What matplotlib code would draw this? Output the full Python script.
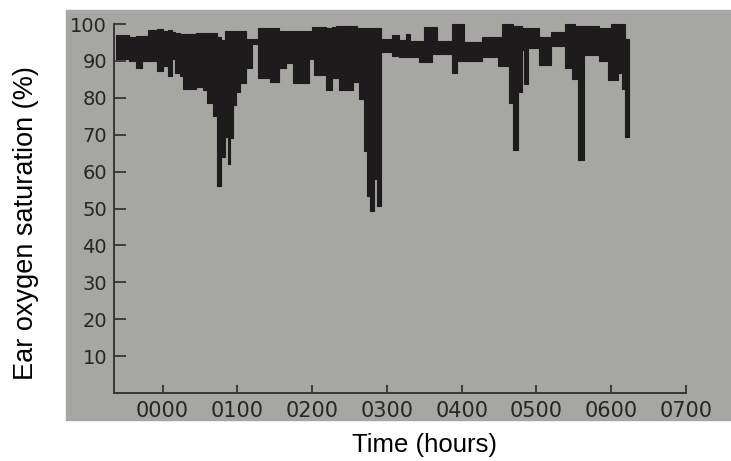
import matplotlib.pyplot as plt
from matplotlib.patches import Rectangle

# segment start times (hours), with the top and bottom of the black band
seg_start = [
    -0.62, -0.45, -0.35, -0.28, -0.20, -0.08, 0.00, 0.07, 0.12, 0.16,
    0.23, 0.27, 0.45, 0.54, 0.60, 0.67, 0.73, 0.78, 0.83, 0.87,
    0.90, 0.94, 0.98, 1.03, 1.12, 1.20, 1.27, 1.43, 1.56, 1.65,
    1.74, 1.96, 2.00, 2.03, 2.18, 2.27, 2.32, 2.36, 2.54, 2.60,
    2.63, 2.69, 2.74, 2.78, 2.83, 2.87, 2.92, 3.07, 3.16, 3.25,
    3.31, 3.43, 3.49, 3.60, 3.67, 3.87, 3.94, 4.03, 4.27, 4.49,
    4.54, 4.63, 4.69, 4.75, 4.80, 4.84, 4.89, 5.03, 5.20, 5.38,
    5.47, 5.52, 5.56, 5.63, 5.83, 5.96, 6.00, 6.09, 6.14, 6.19,
]
seg_end = 6.24

band_high = [
    97.0, 96.5, 96.8, 96.8, 98.4, 98.6, 98.2, 98.4, 97.8, 97.6,
    97.2, 97.3, 97.7, 97.5, 97.7, 97.7, 96.5, 95.6, 98.0, 98.0,
    98.0, 98.0, 98.0, 98.0, 96.0, 96.0, 98.9, 98.9, 98.0, 98.0,
    98.2, 98.0, 99.2, 99.2, 99.0, 99.2, 99.5, 99.5, 99.5, 98.9,
    98.9, 98.9, 98.9, 98.9, 98.9, 98.9, 96.0, 97.0, 95.8, 97.2,
    95.3, 95.3, 99.1, 99.1, 95.3, 100.0, 100.0, 95.2, 96.5, 96.5,
    100.0, 100.0, 99.4, 99.4, 98.8, 98.8, 98.8, 96.5, 97.8, 100.0,
    100.0, 99.4, 99.4, 99.4, 98.8, 98.8, 100.0, 100.0, 100.0, 96.0,
]
band_low = [
    90.5, 90.0, 88.0, 90.0, 90.0, 87.2, 88.5, 85.8, 90.5, 86.7,
    86.0, 82.5, 83.0, 82.0, 78.7, 75.0, 56.0, 64.0, 69.4, 62.0,
    69.0, 78.0, 81.6, 84.0, 88.0, 94.5, 85.3, 84.4, 88.0, 89.5,
    84.0, 90.4, 90.4, 86.2, 82.0, 85.3, 85.3, 82.0, 84.4, 84.4,
    79.7, 65.6, 53.5, 49.3, 58.1, 50.7, 92.3, 91.4, 91.2, 91.2,
    91.2, 89.7, 89.7, 92.0, 92.0, 86.8, 90.0, 90.0, 91.2, 88.6,
    88.6, 78.7, 66.0, 81.5, 93.0, 83.8, 93.6, 89.0, 94.0, 88.0,
    85.1, 85.1, 63.1, 91.6, 90.0, 84.9, 84.9, 86.7, 82.5, 69.5,
]

hour_ticks = [0, 1, 2, 3, 4, 5, 6, 7]
hour_labels = ["0000", "0100", "0200", "0300", "0400", "0500", "0600", "0700"]
sat_ticks = [10, 20, 30, 40, 50, 60, 70, 80, 90, 100]

PAPER = "#a6a6a2"
INK = "#1d1b1b"
AXIS = "#363636"

W, H = 731, 461
fig = plt.figure(figsize=(W / 100, H / 100), dpi=100)
fig.patches.append(Rectangle((66 / W, 41 / H), 665 / W, 410 / H,
                             transform=fig.transFigure, color=PAPER, zorder=-10))

ax = fig.add_axes([114 / W, 68 / H, 572 / W, 380 / H])
ax.patch.set_visible(False)

t = seg_start + [seg_end]
hi = band_high + [band_high[-1]]
lo = band_low + [band_low[-1]]
ax.fill_between(t, lo, hi, step="post", color=INK, lw=0.8)

ax.set_xlim(-0.65, 7.0)
ax.set_ylim(0, 103)
for side in ("top", "right"):
    ax.spines[side].set_visible(False)
ax.spines["left"].set_bounds(0, 100)
ax.spines["bottom"].set_bounds(-0.65, 7.0)
for side in ("left", "bottom"):
    ax.spines[side].set_color(AXIS)
    ax.spines[side].set_linewidth(1.4)

ax.set_xticks(hour_ticks, hour_labels)
ax.set_yticks(sat_ticks)
ax.tick_params(direction="in", color=AXIS, width=1.3, labelcolor="#262626")
ax.tick_params(axis="y", length=8.5, pad=5, labelsize=14)
ax.tick_params(axis="x", length=5.5, pad=6, labelsize=15)

fig.text(26 / W, 1 - 223 / H, "Ear oxygen saturation (%)", rotation=90,
         ha="center", va="center", fontsize=19.5, family="Liberation Sans")
fig.text(425 / W, 1 - 445 / H, "Time (hours)",
         ha="center", va="center", fontsize=18.5, family="Liberation Sans")

fig.savefig("out.png", dpi=100)
